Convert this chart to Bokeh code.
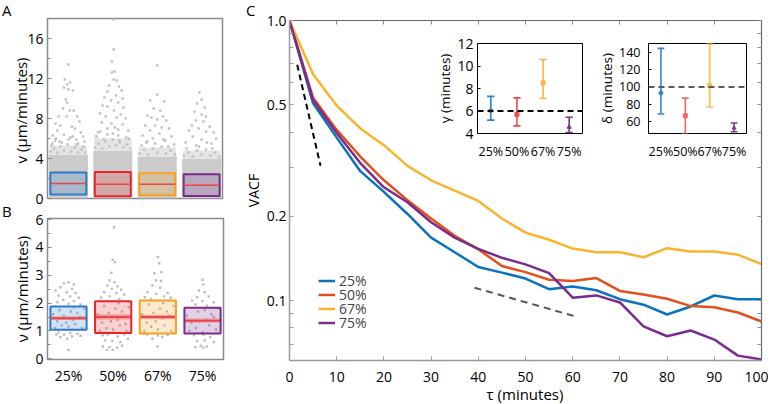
from bokeh.plotting import figure
from bokeh.models import (Range1d, FixedTicker, LinearAxis, LogAxis, Legend, LegendItem,
                          Span, GridBox, NumeralTickFormatter, Div, Column)
from bokeh.embed import file_html
from bokeh.resources import INLINE

FONT = "Open Sans"

# ---------------- data ----------------
categories = ["25%", "50%", "67%", "75%"]
cat_pos = [1, 2, 3, 4]
box_colors = ["#2c7bcb", "#e8232b", "#f6a01b", "#7a2b8b"]
line_colors = ["#0b72bd", "#e2501e", "#f8b42c", "#7a2c8d"]

# Panel A : instantaneous speed v
a_box_low = [0.4, 0.23, 0.33, 0.26]
a_box_high = [2.6, 2.66, 2.53, 2.43]
a_median = [1.5, 1.43, 1.43, 1.33]
a_dense_top = [4.4, 4.8, 4.2, 4.0]
a_mid_top = [5.3, 6.0, 5.1, 4.8]
a_pts_25_dx = [0.0, -0.08, -0.03, 0.04, -0.1, 0.0, 0.1, -0.06, -0.03, -0.12, 0.03, 0.12, -0.22, -0.04, 0.2,
               -0.29, 0.25, -0.18, 0.08, 0.15, -0.25, 0.28, -0.35, 0.33, -0.1, 0.05, 0.18, -0.3, 0.36, -0.15, 0.22, -0.38,
               -0.4, -0.32, -0.25, -0.18, -0.1, -0.02, 0.06, 0.14, 0.22, 0.3, 0.38, -0.36, -0.2, 0.0, 0.18, 0.34, -0.28, 0.1]
a_pts_25_v = [13.4, 11.9, 11.4, 11.6, 11.1, 10.9, 10.8, 9.9, 9.6, 9.0, 8.8, 8.8, 8.2, 8.2, 8.2,
              7.5, 7.7, 7.3, 7.2, 7.0, 6.8, 6.6, 6.3, 6.2, 6.4, 6.1, 5.9, 5.8, 5.7, 5.6, 5.5, 5.3,
              4.7, 5.0, 4.6, 5.2, 4.8, 5.4, 4.7, 5.1, 4.6, 4.9, 4.6, 5.5, 5.7, 5.9, 5.4, 5.2, 6.0, 6.2]
a_pts_50_dx = [0.02, 0.02, -0.02, -0.02, 0.04, 0.02, 0.09, -0.08, 0.14, 0.2, -0.12, 0.07, -0.19, 0.22, -0.04,
               0.12, -0.23, -0.12, 0.24, 0.03, -0.29, 0.18, -0.16, 0.09, 0.29, -0.25, -0.03, 0.22, -0.12, 0.12,
               -0.33, 0.35, 0.0, -0.38, 0.3, -0.2, 0.15,
               -0.4, -0.32, -0.24, -0.16, -0.08, 0.0, 0.08, 0.16, 0.24, 0.32, 0.4, -0.36, -0.12, 0.12, 0.36, -0.28, 0.05]
a_pts_50_v = [17.9, 14.9, 13.7, 12.6, 12.7, 11.9, 11.8, 11.3, 11.2, 10.8, 10.7, 10.3, 10.1, 10.0, 9.8,
              9.6, 9.3, 9.2, 9.1, 8.8, 8.5, 8.4, 8.2, 8.1, 8.0, 7.6, 7.5, 7.4, 7.0, 6.9,
              6.6, 6.8, 6.5, 6.2, 6.1, 5.9, 5.8,
              5.1, 5.5, 5.0, 5.7, 5.2, 5.9, 5.3, 5.6, 5.1, 5.4, 5.0, 6.2, 6.4, 6.3, 6.0, 6.7, 7.1]
a_pts_67_dx = [0.0, 0.0, -0.16, 0.16, -0.08, 0.07, -0.22, -0.13, 0.13, 0.0, 0.2, -0.27, -0.05, 0.1, 0.27,
               -0.16, 0.05, -0.33, 0.32, -0.1, 0.18, -0.25, 0.38,
               -0.4, -0.3, -0.2, -0.1, 0.0, 0.1, 0.2, 0.3, 0.4, -0.35, -0.05, 0.25, -0.22, 0.14]
a_pts_67_v = [13.3, 10.4, 9.8, 9.7, 9.0, 8.8, 8.3, 8.1, 8.2, 7.9, 7.8, 7.3, 7.3, 7.1, 7.0,
              6.8, 6.5, 6.3, 6.2, 6.0, 5.8, 5.6, 5.4,
              4.5, 4.9, 4.4, 5.0, 4.6, 5.2, 4.5, 4.8, 4.4, 5.3, 5.5, 5.2, 5.7, 5.9]
a_pts_75_dx = [-0.05, 0.0, -0.1, 0.07, -0.16, 0.0, 0.1, -0.13, 0.04, -0.22, 0.18, -0.07, -0.29, 0.1, 0.27,
               -0.2, 0.33, 0.0, -0.36, 0.22, -0.12,
               -0.4, -0.3, -0.2, -0.1, 0.0, 0.1, 0.2, 0.3, 0.4, -0.34, -0.06, 0.24, 0.12]
a_pts_75_v = [10.6, 9.9, 9.5, 9.1, 8.7, 8.4, 8.2, 7.8, 7.7, 7.3, 7.2, 7.0, 6.8, 6.7, 6.6,
              6.2, 6.0, 5.9, 5.6, 5.5, 5.3,
              4.3, 4.6, 4.2, 4.8, 4.4, 4.9, 4.3, 4.6, 4.2, 5.0, 5.2, 5.0, 5.6]

# Panel B : mean speed per cell
b_box_low = [1.04, 0.93, 0.91, 0.91]
b_box_high = [1.88, 2.07, 2.09, 1.83]
b_median = [1.46, 1.50, 1.50, 1.37]
b_band_low = [1.39, 1.41, 1.42, 1.30]
b_band_high = [1.53, 1.60, 1.58, 1.45]
b_pts_25_dx = [-0.1, 0.0, 0.12, -0.18, 0.08, -0.29, -0.04, 0.16, -0.22, 0.04, 0.23, -0.12, 0.12, -0.25, 0.0, 0.27,
               -0.22, 0.04, -0.1, 0.2, -0.18, 0.08, -0.03, 0.27, 0.0, -0.27,
               -0.3, -0.15, 0.0, 0.15, 0.3, -0.25, -0.05, 0.1, 0.25, -0.35, 0.2, -0.1, 0.05, 0.35, -0.2, 0.12]
b_pts_25_v = [2.71, 2.75, 2.67, 2.57, 2.51, 2.45, 2.39, 2.36, 2.27, 2.24, 2.19, 2.12, 2.07, 2.03, 1.97, 1.95,
              0.95, 0.92, 0.87, 0.9, 0.78, 0.8, 0.72, 0.83, 0.32, 0.87,
              1.1, 1.2, 1.15, 1.25, 1.1, 1.35, 1.3, 1.4, 1.5, 1.6, 1.65, 1.55, 1.7, 1.8, 1.75, 1.85]
b_pts_50_dx = [0.02, -0.01, 0.04, -0.04, -0.08, 0.03, -0.13, 0.1, -0.03, 0.18, -0.2, 0.07, 0.25, -0.08, -0.27, 0.14,
               -0.23, -0.12, 0.1, 0.25, -0.18, -0.02, 0.16, -0.23, -0.08, 0.09, -0.01, -0.14, 0.2, 0.33,
               -0.3, -0.15, 0.0, 0.15, 0.3, -0.25, -0.05, 0.1, 0.25, -0.35, 0.2, -0.1, 0.05, 0.35, -0.2, 0.12, -0.32, 0.28]
b_pts_50_v = [4.72, 3.55, 3.47, 3.09, 2.81, 2.75, 2.63, 2.6, 2.51, 2.48, 2.39, 2.36, 2.31, 2.24, 2.19, 2.15,
              0.84, 0.87, 0.8, 0.87, 0.66, 0.64, 0.6, 0.44, 0.42, 0.4, 0.32, 0.32, 0.47, 0.72,
              1.0, 1.1, 1.05, 1.2, 1.0, 1.3, 1.35, 1.4, 1.5, 1.6, 1.7, 1.65, 1.8, 1.85, 1.9, 2.0, 1.45, 1.25]
b_pts_67_dx = [0.0, 0.03, -0.08, 0.08, -0.04, 0.07, -0.12, 0.05, -0.23, 0.22, -0.04, -0.29, 0.14, 0.29, -0.15,
               -0.23, 0.0, 0.22, -0.12, 0.1, -0.01, -0.31,
               -0.3, -0.15, 0.0, 0.15, 0.3, -0.25, -0.05, 0.1, 0.25, -0.35, 0.2, -0.1, 0.05, 0.35, -0.2, 0.12]
b_pts_67_v = [3.65, 3.43, 3.07, 3.11, 2.81, 2.79, 2.63, 2.55, 2.39, 2.36, 2.33, 2.21, 2.24, 2.19, 2.15,
              0.87, 0.84, 0.86, 0.72, 0.78, 0.44, 0.9,
              1.0, 1.15, 1.05, 1.2, 1.0, 1.3, 1.35, 1.45, 1.55, 1.6, 1.7, 1.65, 1.8, 1.9, 1.95, 2.0]
b_pts_75_dx = [0.0, 0.02, -0.08, 0.05, -0.12, 0.14, -0.23, 0.0, 0.25, -0.16, 0.1,
               -0.19, 0.02, 0.17, -0.12, 0.05, -0.04, -0.16, 0.1, 0.25, 0.02,
               -0.3, -0.15, 0.0, 0.15, 0.3, -0.25, -0.05, 0.1, 0.25, -0.35, 0.2, -0.1, 0.05, 0.35]
b_pts_75_v = [2.84, 2.67, 2.45, 2.39, 2.21, 2.24, 2.09, 2.07, 2.03, 1.95, 1.91,
              0.84, 0.87, 0.78, 0.64, 0.66, 0.47, 0.42, 0.44, 0.6, 0.4,
              1.0, 1.1, 0.95, 1.2, 1.05, 1.3, 1.35, 1.4, 1.5, 1.55, 1.6, 1.7, 1.75, 1.8]

# Panel C : velocity autocorrelation
tau = [0, 5, 10, 15, 20, 25, 30, 35, 40, 45, 50, 55, 60, 65, 70, 75, 80, 85, 90, 95, 100]
vacf_25 = [1.0, 0.506, 0.382, 0.290, 0.2445, 0.204, 0.168, 0.149, 0.132, 0.126, 0.12, 0.110, 0.1125,
           0.109, 0.1013, 0.0968, 0.0893, 0.0954, 0.1044, 0.1013, 0.1013]
vacf_50 = [1.0, 0.530, 0.407, 0.327, 0.269, 0.2285, 0.1965, 0.1706, 0.1526, 0.133, 0.1265, 0.1188, 0.1175,
           0.1205, 0.1084, 0.1053, 0.1016, 0.0957, 0.0948, 0.0908, 0.0843]
vacf_67 = [1.0, 0.643, 0.497, 0.412, 0.359, 0.303, 0.269, 0.247, 0.227, 0.1965, 0.175, 0.165, 0.1535,
           0.149, 0.149, 0.143, 0.154, 0.150, 0.150, 0.146, 0.135]
vacf_75 = [1.0, 0.52, 0.3965, 0.31, 0.254, 0.2247, 0.1906, 0.168, 0.1532, 0.1423, 0.1348, 0.1254, 0.1025,
           0.1045, 0.0986, 0.081, 0.0747, 0.0783, 0.0727, 0.0637, 0.0617]
ref_short_tau = [1.63, 6.57]
ref_short_vacf = [0.695, 0.303]
ref_long_tau = [39.2, 60.8]
ref_long_vacf = [0.1113, 0.0877]

# Insets
gamma_center = [6.03, 5.7, 8.5, 4.57]
gamma_upper = [7.3, 7.17, 10.58, 5.44]
gamma_lower = [5.19, 4.68, 7.11, 4.08]
gamma_ref = 6
delta_center = [93, 66.7, 101.9, 52.5]
delta_upper = [144.8, 87, 150, 58.1]
delta_lower = [68.6, 46, 76.7, 48]
delta_ref = 100
inset_colors = ["#2f7fc1", "#ec4a4c", "#fbb440", "#7b2f8f"]
delta_colors = ["#3a84c9", "#f06a6a", "#fcc04a", "#7e3a92"]
inset_markers = ["circle", "square", "square", "triangle"]


# ---------------- helpers ----------------
def base_fig(width, height, left, right, top, bottom, **kw):
    p = figure(width=width, height=height, output_backend="svg", toolbar_location=None,
               sizing_mode="fixed", title=None,
               min_border_left=left, min_border_right=right, min_border_top=top,
               min_border_bottom=bottom, **kw)
    p.grid.visible = False
    p.border_fill_color = None
    p.background_fill_color = "white"
    for ax in p.axis:
        ax.axis_label = None
    return p


def style_axis(ax, size="14px"):
    ax.major_label_text_font = FONT
    ax.major_label_text_font_size = size
    ax.major_label_text_color = "black"
    ax.axis_label_text_font = FONT
    ax.axis_label_text_font_style = "normal"
    ax.axis_label_text_color = "black"


def placed(obj, px, py):
    # each plot gets its own wrapper so that plot frames are not aligned to each other;
    # the root box sits at the page's top-left corner (0, 0)
    return Column(children=[obj], margin=(py, 0, 0, px), sizing_mode="fixed",
                  width=obj.width, height=obj.height)


def text_div(txt, px, py, width, line_h, size="15px", align="left"):
    d = Div(text=txt, width=width, height=line_h, sizing_mode="fixed", margin=(py, 0, 0, px),
            styles={"font-family": FONT, "font-size": size, "line-height": f"{line_h}px",
                    "text-align": align, "color": "black", "white-space": "nowrap"})
    return d


def gather(dx_lists, v_lists):
    xs, ys = [], []
    for c, dxl, vl in zip(cat_pos, dx_lists, v_lists):
        xs += [c + d for d in dxl]
        ys += list(vl)
    return xs, ys


half = 0.405

# ---------------- Panel A ----------------
pA = base_fig(230, 208, 47, 8, 18, 10, x_range=Range1d(0.53, 4.47), y_range=Range1d(0, 18),
              x_axis_location=None)
pA.outline_line_color = "#8a8a8a"
pA.outline_line_width = 1.5
ya = pA.yaxis[0]
ya.ticker = FixedTicker(ticks=[0, 4, 8, 12, 16], minor_ticks=[2, 6, 10, 14])
style_axis(ya, "14px")
ya.axis_line_color = None
ya.major_tick_in, ya.major_tick_out = 4, 0
ya.minor_tick_in, ya.minor_tick_out = 3, 0
ya.major_tick_line_color = "#8a8a8a"
ya.minor_tick_line_color = "#8a8a8a"
ya.major_label_standoff = 4
ya.axis_label = "v  (μm/minutes)"
ya.axis_label_text_font_size = "15px"
ya.axis_label_standoff = -7

pA.quad(left=[c - 0.44 for c in cat_pos], right=[c + 0.44 for c in cat_pos],
        bottom=[0] * 4, top=a_dense_top, fill_color="#cbcbcb", line_color=None)
pA.quad(left=[c - 0.42 for c in cat_pos], right=[c + 0.42 for c in cat_pos],
        bottom=a_dense_top, top=a_mid_top, fill_color="#e4e4e4", line_color=None)
ax_, ay_ = gather([a_pts_25_dx, a_pts_50_dx, a_pts_67_dx, a_pts_75_dx],
                  [a_pts_25_v, a_pts_50_v, a_pts_67_v, a_pts_75_v])
pA.scatter(ax_, ay_, marker="square", size=2.4, fill_color="#c2c2c2", line_color=None)
pA.quad(left=[c - half for c in cat_pos], right=[c + half for c in cat_pos],
        bottom=a_box_low, top=a_box_high, fill_color=box_colors, fill_alpha=0.22,
        line_color=box_colors, line_width=2)
pA.segment(x0=[c - half for c in cat_pos], x1=[c + half for c in cat_pos], y0=a_median, y1=a_median,
           line_color="#e8474a", line_width=1.5)

# ---------------- Panel B ----------------
pB = base_fig(230, 198, 47, 7, 16, 41, x_range=Range1d(0.53, 4.47), y_range=Range1d(-0.025, 5.036))
pB.outline_line_color = "#8a8a8a"
pB.outline_line_width = 1.5
yb = pB.yaxis[0]
yb.ticker = FixedTicker(ticks=[0, 1, 2, 3, 4, 5], minor_ticks=[0.5, 1.5, 2.5, 3.5, 4.5])
yb.major_label_overrides = {5: "6"}
style_axis(yb, "14px")
yb.axis_line_color = None
yb.major_tick_in, yb.major_tick_out = 4, 0
yb.minor_tick_in, yb.minor_tick_out = 3, 0
yb.major_tick_line_color = "#8a8a8a"
yb.minor_tick_line_color = "#8a8a8a"
yb.major_label_standoff = 4
yb.axis_label = "ν (μm/minutes)"
yb.axis_label_text_font_size = "15px"
yb.axis_label_standoff = 0
xb = pB.xaxis[0]
xb.ticker = FixedTicker(ticks=cat_pos)
xb.major_label_overrides = {c: lab for c, lab in zip(cat_pos, categories)}
style_axis(xb, "14px")
xb.axis_line_color = None
xb.major_tick_line_color = None
xb.minor_tick_line_color = None
xb.major_label_standoff = 0

bx_, by_ = gather([b_pts_25_dx, b_pts_50_dx, b_pts_67_dx, b_pts_75_dx],
                  [b_pts_25_v, b_pts_50_v, b_pts_67_v, b_pts_75_v])
pB.scatter(bx_, by_, marker="square", size=2.4, fill_color="#bdbdbd", line_color=None)
pB.quad(left=[c - half for c in cat_pos], right=[c + half for c in cat_pos],
        bottom=b_box_low, top=b_box_high, fill_color=box_colors, fill_alpha=0.22,
        line_color=None)
pB.quad(left=[c - half for c in cat_pos], right=[c + half for c in cat_pos],
        bottom=b_band_low, top=b_band_high, fill_color="#f07a7a", fill_alpha=0.6, line_color=None)
pB.segment(x0=[c - half for c in cat_pos], x1=[c + half for c in cat_pos], y0=b_median, y1=b_median,
           line_color="#e8474a", line_width=2)
pB.quad(left=[c - half for c in cat_pos], right=[c + half for c in cat_pos],
        bottom=b_box_low, top=b_box_high, fill_color=None,
        line_color=box_colors, line_width=2)

# ---------------- Panel C ----------------
pC = base_fig(528, 400, 49, 7, 20, 40, x_range=Range1d(0, 100), y_range=Range1d(0.0612, 1.0),
              y_axis_type="log")
pC.outline_line_color = None
x_ticks = FixedTicker(ticks=[0, 10, 20, 30, 40, 50, 60, 70, 80, 90, 100])
y_ticks = FixedTicker(ticks=[0.1, 0.2, 0.5, 1.0],
                      minor_ticks=[0.07, 0.08, 0.09, 0.3, 0.4, 0.6, 0.7, 0.8, 0.9])
yc = pC.yaxis[0]
yc.ticker = y_ticks
yc.formatter = NumeralTickFormatter(format="0.0")
style_axis(yc, "14px")
yc.axis_label = "VACF"
yc.axis_label_text_font_size = "14px"
yc.axis_label_standoff = 1
yc.major_label_standoff = 3
xc = pC.xaxis[0]
xc.ticker = x_ticks
style_axis(xc, "14px")
xc.major_label_standoff = 11
for ax in (yc, xc):
    ax.axis_line_color = "#9a9a9a"
    ax.axis_line_width = 1.5
    ax.major_tick_in, ax.major_tick_out = 4, 0
    ax.minor_tick_in, ax.minor_tick_out = 4, 0
    ax.major_tick_line_color = "#9a9a9a"
    ax.minor_tick_line_color = "#9a9a9a"
xc.minor_tick_line_color = None

top_ax = LinearAxis(ticker=x_ticks, axis_label=None)
right_ax = LogAxis(ticker=y_ticks, axis_label=None)
for ax in (top_ax, right_ax):
    ax.major_label_text_font_size = "1px"
    ax.major_label_text_color = None
    ax.major_label_standoff = 0
    ax.axis_line_color = "#6a6a6a"
    ax.axis_line_width = 1.2
    ax.major_tick_in, ax.major_tick_out = 4, 0
    ax.minor_tick_in, ax.minor_tick_out = 4, 0
    ax.major_tick_line_color = "#8a8a8a"
    ax.minor_tick_line_color = "#8a8a8a"
top_ax.minor_tick_line_color = None
pC.add_layout(top_ax, "above")
pC.add_layout(right_ax, "right")

pC.line(ref_short_tau, ref_short_vacf, line_color="black", line_width=2, line_dash="6 4")
pC.line(ref_long_tau, ref_long_vacf, line_color="#555555", line_width=2, line_dash="7 5")
renderers = []
for vals, col in zip([vacf_25, vacf_50, vacf_67, vacf_75], line_colors):
    renderers.append(pC.line(tau, vals, line_color=col, line_width=2.5))
legend_rows_y = [70, 56, 42, 28]
for lab, r, ly in zip(categories, renderers, legend_rows_y):
    pC.add_layout(Legend(items=[LegendItem(label=lab, renderers=[r])], location=(29, ly),
                         background_fill_alpha=0, border_line_color=None, padding=0, margin=0,
                         spacing=0, glyph_width=17, glyph_height=13, label_height=13,
                         label_standoff=4, label_text_font=FONT, label_text_font_size="14px"))

# ---------------- Insets ----------------
def inset(width, left, right, y_range, ticks, center, upper, lower, colors, ref, ref_color, label,
          ylab_size, ylab_standoff):
    p = base_fig(width, 127, left, right, 8, 24, x_range=Range1d(0.49, 4.51), y_range=y_range)
    p.outline_line_color = "black"
    p.outline_line_width = 1
    yi = p.yaxis[0]
    yi.ticker = FixedTicker(ticks=ticks)
    style_axis(yi, ylab_size)
    yi.axis_line_color = None
    yi.major_tick_in, yi.major_tick_out = 3, 0
    yi.minor_tick_line_color = None
    yi.major_label_standoff = ylab_standoff
    yi.axis_label = label
    yi.axis_label_text_font_size = "13.5px"
    yi.axis_label_standoff = 0
    xi = p.xaxis[0]
    xi.ticker = FixedTicker(ticks=cat_pos)
    xi.major_label_overrides = {c: lab for c, lab in zip(cat_pos, categories)}
    style_axis(xi, "12.5px")
    xi.axis_line_color = None
    xi.major_tick_line_color = None
    xi.minor_tick_line_color = None
    xi.major_label_standoff = 3
    p.add_layout(Span(location=ref, dimension="width", line_color=ref_color, line_width=2,
                      line_dash="6 4"))
    p.segment(x0=cat_pos, x1=cat_pos, y0=lower, y1=upper, line_color=colors, line_width=1.6)
    cap = 0.14
    p.segment(x0=[c - cap for c in cat_pos], x1=[c + cap for c in cat_pos], y0=upper, y1=upper,
              line_color=colors, line_width=1.6)
    p.segment(x0=[c - cap for c in cat_pos], x1=[c + cap for c in cat_pos], y0=lower, y1=lower,
              line_color=colors, line_width=1.6)
    for c, v, col, m in zip(cat_pos, center, colors, inset_markers):
        p.scatter([c], [v], marker=m, size=4, fill_color=col, line_color=col)
    return p


pG = inset(160, 47, 8, Range1d(4, 12), [4, 6, 8, 10, 12], gamma_center, gamma_upper, gamma_lower,
           inset_colors, gamma_ref, "black", "γ (minutes)", "14px", 4)
pD = inset(157, 46, 6, Range1d(46, 150.4), [60, 80, 100, 120, 140], delta_center, delta_upper,
           delta_lower, delta_colors, delta_ref, "#5a5a5a", "δ (minutes)", "12.5px", 8)

# ---------------- panel letters and the lag-axis title ----------------
dA = text_div("A", 2, 0, 20, 21)
dB = text_div("B", 2, 201, 20, 21)
dC = text_div("C", 246, 0, 20, 21)
dT = text_div("τ (minutes)", 465, 389, 120, 11, align="center")

# ---------------- layout ----------------
root = GridBox(children=[(placed(pA, 0, 0), 0, 0), (placed(pB, 0, 202), 0, 0),
                         (placed(pC, 240, 0), 0, 0), (placed(pG, 430, 35), 0, 0),
                         (placed(pD, 595, 35), 0, 0),
                         (dA, 0, 0), (dB, 0, 0), (dC, 0, 0), (dT, 0, 0)])

open("out.html", "w").write(file_html(root, INLINE))
